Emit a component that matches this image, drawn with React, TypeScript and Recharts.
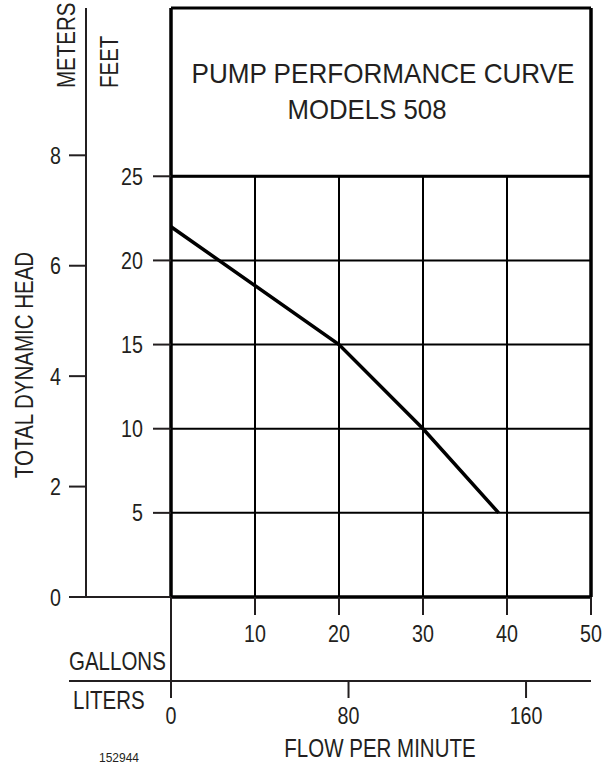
import React from 'react';
import { LineChart, Line, XAxis, YAxis, CartesianGrid, ReferenceLine, Customized } from 'recharts';

// curve: flow (US gal/min) vs total dynamic head (ft)
const flowGpm = [0, 20, 30, 39];
const headFt = [22, 15, 10, 5];

const gallonTicks = [0, 10, 20, 30, 40, 50];
const literTicks = [0, 80, 160];
const feetTicks = [5, 10, 15, 20, 25];
const meterTicks = [0, 2, 4, 6, 8];
const gridGallons = [10, 20, 30, 40];

const GAL_MAX = 50;
const FT_PLOT_MAX = 25;
const FT_MAX = 35; // title box sits above the 25 ft line
const M_PER_FT = 0.3048;
const L_PER_GAL = 3.78541;

const INK = '#231f20';
const SANS = "'Liberation Sans', Arial, sans-serif";
const SQUEEZE = 0.82; // no narrow face installed, so condense the regular one

// same curve in both unit systems so the metric axes get a domain too
const data = flowGpm.map((g, i) => ({
  gal: g,
  ft: headFt[i],
  lit: g * L_PER_GAL,
  m: headFt[i] * M_PER_FT,
}));

type NProps = { x: number; y: number; anchor?: string; dy?: string; size?: number; rotate?: boolean; children: any };
const NText = ({ x, y, anchor = 'start', dy, size = 24, rotate = false, children }: NProps) => (
  <text
    transform={`translate(${x},${y})${rotate ? ' rotate(-90)' : ''} scale(${SQUEEZE},1)`}
    dy={dy}
    textAnchor={anchor}
    fontSize={size}
    fontFamily={SANS}
    fill={INK}
  >
    {children}
  </text>
);

const FeetTick = (props: any) => {
  const { x, y, payload } = props;
  return <NText x={x} y={y} dy="0.355em" anchor="end">{payload.value}</NText>;
};

const MeterTick = (props: any) => {
  const { x, y, payload } = props;
  return (
    <g>
      {payload.value === 0 && <line x1={x + 8} x2={x + 110} y1={y} y2={y} stroke={INK} strokeWidth={2} />}
      <NText x={x} y={y} dy="0.355em" anchor="end">{payload.value}</NText>
    </g>
  );
};

const GallonTick = (props: any) => {
  const { x, y, payload } = props;
  if (payload.value === 0) {
    return <line x1={x} x2={x} y1={y - 28} y2={y + 56} stroke={INK} strokeWidth={2} />;
  }
  return <NText x={x} y={y} dy="0.71em" anchor="middle">{payload.value}</NText>;
};

const LiterTick = (props: any) => {
  const { x, y, payload } = props;
  return (
    <g>
      {payload.value === 0 && <line x1={x - 102} x2={x} y1={y - 26} y2={y - 26} stroke={INK} strokeWidth={2} />}
      <NText x={x} y={y} dy="0.71em" anchor="middle">{payload.value}</NText>
    </g>
  );
};

const Labels = () => (
  <g>
    <text x={383} y={83} textAnchor="middle" fontSize={28} fontFamily={SANS} fill={INK} textLength={383} lengthAdjust="spacingAndGlyphs">
      PUMP PERFORMANCE CURVE
    </text>
    <text x={367} y={119} textAnchor="middle" fontSize={28} fontFamily={SANS} fill={INK} textLength={159} lengthAdjust="spacingAndGlyphs">
      MODELS 508
    </text>
    <NText x={75} y={88} size={25} rotate>METERS</NText>
    <NText x={118} y={88} size={25} rotate>FEET</NText>
    <NText x={33} y={365} size={25} rotate anchor="middle">TOTAL DYNAMIC HEAD</NText>
    <NText x={69} y={670} size={25}>GALLONS</NText>
    <NText x={73} y={709} size={25}>LITERS</NText>
    <NText x={380} y={757} size={25} anchor="middle">FLOW PER MINUTE</NText>
    <text x={119} y={762} textAnchor="middle" fontSize={12} fontFamily={SANS} fill={INK}>152944</text>
  </g>
);

export default function App() {
  return (
    <div style={{ position: 'absolute', left: 0, top: 0, width: 613, height: 765, background: '#fff' }}>
      <LineChart width={613} height={765} data={data} margin={{ top: 8, right: 22, bottom: 0, left: 0 }}>
        <XAxis
          xAxisId="gal"
          dataKey="gal"
          type="number"
          domain={[0, GAL_MAX]}
          ticks={gallonTicks}
          interval={0}
          height={84}
          tickSize={18}
          tickMargin={10}
          axisLine={false}
          tickLine={{ stroke: INK, strokeWidth: 2 }}
          tick={GallonTick}
          allowDataOverflow
        />
        <XAxis
          xAxisId="lit"
          dataKey="lit"
          type="number"
          domain={[0, GAL_MAX * L_PER_GAL]}
          ticks={literTicks}
          interval={0}
          height={84}
          tickSize={17}
          tickMargin={9}
          axisLine={{ stroke: INK, strokeWidth: 2 }}
          tickLine={{ stroke: INK, strokeWidth: 2 }}
          tick={LiterTick}
          allowDataOverflow
        />
        <YAxis
          yAxisId="ft"
          type="number"
          domain={[0, FT_MAX]}
          ticks={feetTicks}
          interval={0}
          width={85}
          tickSize={18}
          tickMargin={10}
          axisLine={false}
          tickLine={{ stroke: INK, strokeWidth: 2 }}
          tick={FeetTick}
          allowDataOverflow
        />
        <YAxis
          yAxisId="m"
          type="number"
          domain={[0, FT_MAX * M_PER_FT]}
          ticks={meterTicks}
          interval={0}
          width={86}
          tickSize={17}
          tickMargin={8}
          axisLine={{ stroke: INK, strokeWidth: 2 }}
          tickLine={{ stroke: INK, strokeWidth: 2 }}
          tick={MeterTick}
          allowDataOverflow
        />
        <CartesianGrid xAxisId="gal" yAxisId="ft" vertical={false} stroke="#000" strokeWidth={2} strokeOpacity={1} />
        {gridGallons.map((g) => (
          <ReferenceLine
            key={g}
            xAxisId="gal"
            yAxisId="ft"
            segment={[{ x: g, y: 0 }, { x: g, y: FT_PLOT_MAX }]}
            stroke="#000"
            strokeWidth={2}
          />
        ))}
        <ReferenceLine xAxisId="gal" yAxisId="ft" x={0} stroke="#000" strokeWidth={3.5} />
        <ReferenceLine xAxisId="gal" yAxisId="ft" x={GAL_MAX} stroke="#000" strokeWidth={3.5} />
        <ReferenceLine xAxisId="gal" yAxisId="ft" y={0} stroke="#000" strokeWidth={3.5} />
        <ReferenceLine xAxisId="gal" yAxisId="ft" y={FT_PLOT_MAX} stroke="#000" strokeWidth={3} />
        <ReferenceLine xAxisId="gal" yAxisId="ft" y={FT_MAX} stroke="#000" strokeWidth={3} />
        {/* metric twin of the curve, invisible: only binds the metric axes */}
        <Line
          xAxisId="lit"
          yAxisId="m"
          dataKey="m"
          type="linear"
          stroke="none"
          dot={false}
          activeDot={false}
          isAnimationActive={false}
        />
        <Line
          xAxisId="gal"
          yAxisId="ft"
          dataKey="ft"
          type="linear"
          stroke="#000"
          strokeWidth={3.5}
          dot={false}
          isAnimationActive={false}
        />
        <Customized component={<Labels />} />
      </LineChart>
    </div>
  );
}
